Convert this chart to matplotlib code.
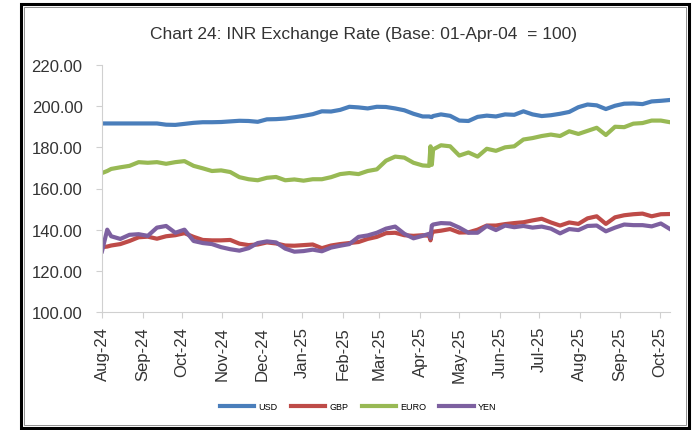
import pandas as pd
import matplotlib.pyplot as plt
import matplotlib.dates as mdates
from matplotlib.patches import Rectangle

plt.rcParams['font.family'] = ['Liberation Sans', 'DejaVu Sans']

dates = ['2024-08-01', '2024-08-05', '2024-08-08', '2024-08-15', '2024-08-22', '2024-08-29',
         '2024-09-05', '2024-09-12', '2024-09-19', '2024-09-26', '2024-10-03', '2024-10-10',
         '2024-10-17', '2024-10-24', '2024-10-31', '2024-11-07', '2024-11-14', '2024-11-21',
         '2024-11-28', '2024-12-05', '2024-12-12', '2024-12-19', '2024-12-26', '2025-01-02',
         '2025-01-09', '2025-01-16', '2025-01-23', '2025-01-30', '2025-02-06', '2025-02-13',
         '2025-02-20', '2025-02-27', '2025-03-06', '2025-03-13', '2025-03-20', '2025-03-27',
         '2025-04-03', '2025-04-08', '2025-04-09', '2025-04-10', '2025-04-11', '2025-04-17',
         '2025-04-24', '2025-05-01', '2025-05-08', '2025-05-15', '2025-05-22', '2025-05-29',
         '2025-06-05', '2025-06-12', '2025-06-19', '2025-06-26', '2025-07-03', '2025-07-10',
         '2025-07-17', '2025-07-24', '2025-07-31', '2025-08-07', '2025-08-14', '2025-08-21',
         '2025-08-28', '2025-09-04', '2025-09-11', '2025-09-18', '2025-09-25', '2025-10-02',
         '2025-10-09']

usd = [191.6, 191.6, 191.6, 191.6, 191.6, 191.6, 191.6, 191.6, 191.0, 190.9, 191.4, 191.9,
       192.2, 192.2, 192.3, 192.6, 192.9, 192.8, 192.4, 193.6, 193.7, 194.0, 194.6, 195.3,
       196.1, 197.5, 197.4, 198.2, 199.7, 199.4, 198.9, 199.7, 199.6, 198.9, 198.0, 196.3,
       195.0, 195.0, 194.8, 194.7, 195.2, 196.0, 195.3, 193.0, 192.8, 194.8, 195.4, 195.0,
       196.0, 195.8, 197.5, 196.0, 195.2, 195.6, 196.3, 197.2, 199.5, 200.8, 200.4, 198.6,
       200.2, 201.2, 201.3, 201.0, 202.3, 202.6, 203.0]

gbp = [131.5, 131.8, 132.3, 133.0, 134.5, 136.3, 136.6, 135.6, 136.8, 137.3, 138.3, 136.5,
       135.0, 134.8, 134.8, 135.0, 133.2, 132.5, 132.8, 133.8, 133.3, 132.3, 132.2, 132.5,
       132.8, 131.0, 132.3, 133.0, 133.5, 134.0, 135.5, 136.5, 138.3, 138.5, 137.3, 137.0,
       137.3, 137.0, 134.8, 138.0, 139.0, 139.5, 140.3, 138.6, 138.7, 140.0, 142.0, 142.0,
       142.7, 143.2, 143.6, 144.5, 145.3, 143.5, 142.0, 143.5, 142.8, 145.5, 146.5, 142.8,
       146.0, 147.0, 147.5, 147.8, 146.5, 147.5, 147.6]

euro = [167.5, 168.5, 169.5, 170.3, 171.0, 172.8, 172.5, 172.8, 172.0, 172.8, 173.3, 171.0,
        169.8, 168.5, 168.8, 168.0, 165.5, 164.5, 164.0, 165.2, 165.6, 164.0, 164.4, 163.8,
        164.5, 164.5, 165.5, 167.0, 167.5, 167.0, 168.5, 169.3, 173.5, 175.5, 175.0, 172.5,
        171.2, 171.0, 180.5, 171.5, 179.0, 181.0, 180.5, 176.0, 177.5, 175.5, 179.3, 178.3,
        180.0, 180.5, 183.8, 184.5, 185.5, 186.2, 185.5, 187.8, 186.5, 188.0, 189.5, 186.0,
        190.0, 189.8, 191.5, 191.8, 193.0, 193.0, 192.2]

yen = [129.5, 140.0, 136.8, 135.5, 137.5, 137.8, 137.0, 141.0, 141.8, 138.5, 140.0, 134.5,
       133.5, 133.0, 131.5, 130.5, 129.8, 131.0, 133.5, 134.3, 133.8, 130.8, 129.3, 129.6,
       130.3, 129.5, 131.3, 132.2, 133.0, 136.5, 137.2, 138.5, 140.5, 141.5, 138.0, 135.8,
       137.0, 138.0, 136.0, 142.0, 142.5, 143.2, 143.0, 141.0, 138.5, 138.5, 141.8, 139.8,
       142.0, 141.2, 141.8, 141.0, 141.5, 140.5, 138.2, 140.3, 139.8, 141.8, 142.0, 139.2,
       141.0, 142.5, 142.2, 142.2, 141.6, 143.0, 140.3]

series = ['USD', 'GBP', 'EURO', 'YEN']
colors = ['#4a7ebb', '#be4b48', '#98b954', '#7d60a0']

x = pd.to_datetime(dates)

fig = plt.figure(figsize=(6.96, 4.31), dpi=100)
ax = fig.add_axes([102 / 696, 1 - 313 / 431, 568 / 696, 247 / 431])

for name, vals, c in zip(series, [usd, gbp, euro, yen], colors):
    ax.plot(x, vals, color=c, lw=3, label=name, solid_joinstyle='round')

ax.set_ylim(100, 220)
ax.set_yticks(range(100, 221, 20))
ax.yaxis.set_major_formatter(plt.FuncFormatter(lambda v, p: f'{v:.2f}'))
ax.set_xlim(pd.Timestamp('2024-08-01'), pd.Timestamp('2025-10-09'))
ax.xaxis.set_major_locator(mdates.MonthLocator())
ax.xaxis.set_major_formatter(mdates.DateFormatter('%b-%y'))
plt.setp(ax.get_xticklabels(), rotation=90)

for s in ['top', 'right']:
    ax.spines[s].set_visible(False)
for s in ['left', 'bottom']:
    ax.spines[s].set_color('#d0d0d0')
ax.tick_params(axis='y', colors='#d0d0d0', labelcolor='#333333', labelsize=12, length=4, pad=10)
ax.tick_params(axis='x', colors='#d0d0d0', labelcolor='#333333', labelsize=12, length=4, pad=6)

fig.text(364 / 696, 1 - 35 / 431, 'Chart 24: INR Exchange Rate (Base: 01-Apr-04  = 100)',
         ha='center', va='center', fontsize=12.5, color='#333333')

fig.legend(loc='center', bbox_to_anchor=(358 / 696, 1 - 408 / 431), ncol=4, frameon=False,
           fontsize=6.5, handlelength=3.8, handletextpad=0.45, columnspacing=1.5)

# outer chart frame
fig.patches.append(Rectangle((21 / 696, 2 / 431), 668 / 696, 424 / 431, transform=fig.transFigure,
                             fill=False, lw=2.2, ec='black'))
fig.patches.append(Rectangle((24 / 696, 5 / 431), 662 / 696, 418 / 431, transform=fig.transFigure,
                             fill=False, lw=0.6, ec='#808080'))

fig.savefig('out.png', dpi=100)
